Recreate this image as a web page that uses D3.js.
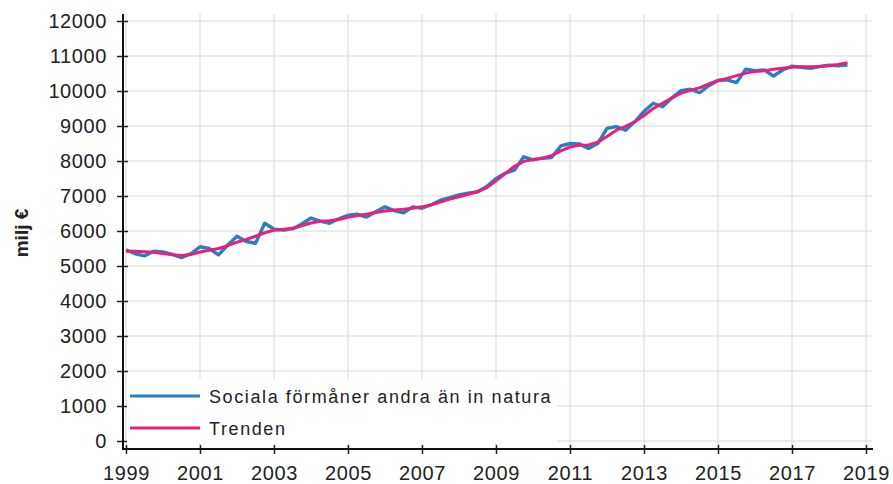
<!DOCTYPE html>
<meta charset="utf-8">
<style>
  body { margin: 0; background: #fff; }
  text { font-family: "Liberation Sans", Arial, sans-serif; fill: #222; }
</style>
<body>
<script src="https://cdn.jsdelivr.net/npm/d3@7"></script>
<script>
  // quarterly values, 1999Q1 .. 2018Q3
  var startYear = 1999;
  var social = [
    5460, 5350, 5290, 5420,   5400, 5330, 5240, 5350,
    5550, 5500, 5320, 5600,   5850, 5700, 5650, 6220,
    6050, 6030, 6060, 6200,   6370, 6280, 6220, 6350,
    6450, 6480, 6400, 6550,   6690, 6580, 6520, 6690,
    6650, 6750, 6880, 6950,   7030, 7080, 7120, 7270,
    7500, 7650, 7740, 8120,   8030, 8080, 8100, 8430,
    8500, 8490, 8360, 8500,   8930, 8980, 8880, 9120,
    9420, 9650, 9550, 9800,   10010, 10050, 9950, 10150,
    10300, 10320, 10240, 10620, 10580, 10600, 10430, 10600,
    10710, 10680, 10650, 10700, 10740, 10720, 10740
  ];
  var trend = [
    5420, 5420, 5410, 5390,   5360, 5320, 5300, 5330,
    5400, 5450, 5500, 5580,   5680, 5760, 5850, 5950,
    6020, 6050, 6080, 6150,   6230, 6280, 6290, 6330,
    6390, 6440, 6480, 6530,   6570, 6600, 6620, 6650,
    6690, 6750, 6830, 6910,   6980, 7050, 7120, 7240,
    7430, 7640, 7850, 7990,   8040, 8080, 8150, 8290,
    8400, 8450, 8460, 8540,   8700, 8880, 8990, 9120,
    9300, 9500, 9650, 9800,   9940, 10020, 10090, 10200,
    10300, 10360, 10440, 10510, 10560, 10580, 10620, 10650,
    10680, 10690, 10690, 10700, 10720, 10760, 10810
  ];
  var seriesNames = ["Sociala förmåner andra än in natura", "Trenden"];
  var seriesColors = ["#2a7fc0", "#e5217c"];
  var yTicks = [0, 1000, 2000, 3000, 4000, 5000, 6000, 7000, 8000, 9000, 10000, 11000, 12000];
  var xTicks = [1999, 2001, 2003, 2005, 2007, 2009, 2011, 2013, 2015, 2017, 2019];

  var width = 893, height = 484;
  var axisX = 123, axisY = 449;

  var svg = d3.select("body").append("svg")
      .attr("width", width)
      .attr("height", height);

  var x = d3.scaleLinear().domain([1999, 2019]).range([126, 866]);
  var y = d3.scaleLinear().domain([0, 12000]).range([441, 21]);

  function t(i) { return startYear + i / 4; }

  // grid
  var grid = svg.append("g").attr("stroke", "#e4e4e4").attr("stroke-width", 1.5);
  grid.selectAll(".h").data(yTicks).enter().append("line")
      .attr("x1", 126).attr("x2", 872)
      .attr("y1", function(d) { return y(d); })
      .attr("y2", function(d) { return y(d); });
  grid.selectAll(".v").data(xTicks).enter().append("line")
      .attr("x1", function(d) { return x(d); })
      .attr("x2", function(d) { return x(d); })
      .attr("y1", 14).attr("y2", axisY);

  // lines
  var line = d3.line()
      .x(function(d, i) { return x(t(i)); })
      .y(function(d) { return y(d); });

  svg.append("path").datum(social)
      .attr("fill", "none")
      .attr("stroke", seriesColors[0])
      .attr("stroke-width", 3.4)
      .attr("stroke-linejoin", "round")
      .attr("d", line);
  svg.append("path").datum(trend)
      .attr("fill", "none")
      .attr("stroke", seriesColors[1])
      .attr("stroke-width", 3)
      .attr("stroke-linejoin", "round")
      .attr("d", line);

  // y axis
  var yAxis = svg.append("g")
      .attr("transform", "translate(" + axisX + ",0)")
      .call(d3.axisLeft(y).tickValues(yTicks).tickFormat(d3.format("d")).tickSize(6).tickPadding(10));
  yAxis.select(".domain").remove();
  yAxis.selectAll(".tick line").attr("x2", -6).attr("x1", 5).attr("stroke", "#222").attr("stroke-width", 1.5);
  yAxis.selectAll(".tick text")
      .attr("x", -16)
      .style("font-size", "20px")
      .style("letter-spacing", "0.6px")
      .attr("fill", "#222");
  svg.append("line")
      .attr("x1", axisX).attr("x2", axisX)
      .attr("y1", 14).attr("y2", axisY + 1)
      .attr("stroke", "#111").attr("stroke-width", 2);

  // x axis
  var xAxis = svg.append("g")
      .attr("transform", "translate(0," + axisY + ")")
      .call(d3.axisBottom(x).tickValues(xTicks).tickFormat(d3.format("d")).tickSize(5).tickPadding(12));
  xAxis.select(".domain").remove();
  xAxis.selectAll(".tick line").attr("y1", -4).attr("stroke", "#222").attr("stroke-width", 1.5);
  xAxis.selectAll(".tick text")
      .style("font-size", "20px")
      .style("letter-spacing", "0.6px")
      .attr("fill", "#222");
  svg.append("line")
      .attr("x1", axisX).attr("x2", 873)
      .attr("y1", axisY).attr("y2", axisY)
      .attr("stroke", "#111").attr("stroke-width", 2);

  // y title
  svg.append("text")
      .attr("transform", "translate(28,233) rotate(-90)")
      .attr("text-anchor", "middle")
      .style("font-size", "19px")
      .style("font-weight", "bold")
      .text("milj €");

  // legend
  var legend = svg.append("g");
  legend.append("rect")
      .attr("x", 127).attr("y", 379)
      .attr("width", 430).attr("height", 64)
      .attr("fill", "#fff");
  legend.selectAll("line").data(seriesNames).enter().append("line")
      .attr("x1", 130).attr("x2", 200)
      .attr("y1", function(d, i) { return 396 + i * 32; })
      .attr("y2", function(d, i) { return 396 + i * 32; })
      .attr("stroke", function(d, i) { return seriesColors[i]; })
      .attr("stroke-width", 3);
  legend.selectAll("text").data(seriesNames).enter().append("text")
      .attr("x", 209)
      .attr("y", function(d, i) { return 403 + i * 32; })
      .style("font-size", "18px")
      .style("letter-spacing", "1.6px")
      .text(function(d) { return d; });
</script>
</body>
</html>
